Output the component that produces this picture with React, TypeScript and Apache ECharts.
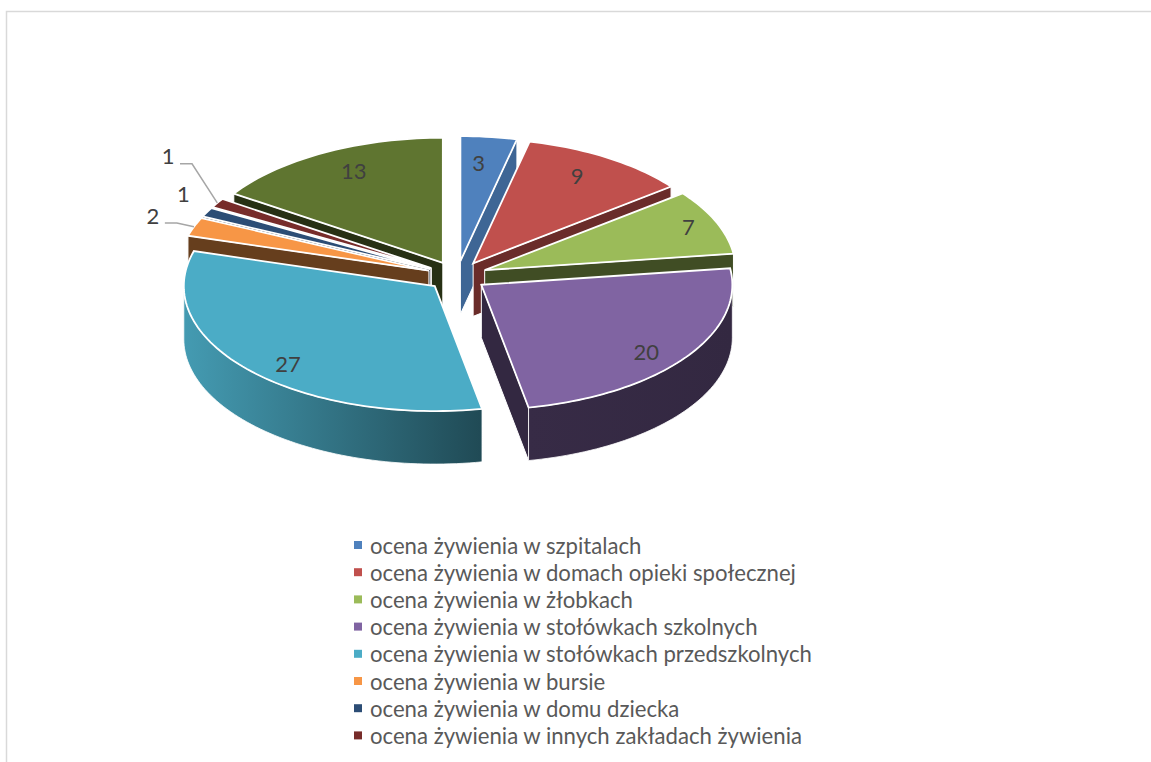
import React, { useEffect, useRef } from "react";
import * as echarts from "echarts";

// The reference shows eight legend rows; the ninth slice (13) has no readable name.
const categories = [
  "ocena żywienia w szpitalach",
  "ocena żywienia w domach opieki społecznej",
  "ocena żywienia w żłobkach",
  "ocena żywienia w stołówkach szkolnych",
  "ocena żywienia w stołówkach przedszkolnych",
  "ocena żywienia w bursie",
  "ocena żywienia w domu dziecka",
  "ocena żywienia w innych zakładach żywienia",
];
const values = [3, 9, 7, 20, 27, 2, 1, 1, 13];
const colors = ["#4f81bd", "#c0504d", "#9bbb59", "#8064a2", "#4bacc6", "#f79646", "#2c4d75", "#772c2a", "#5f7530"];
// label placement, as a fraction of the radius along each slice's mid-angle
const labelFx = [0.64, 0.77, 0.88, 0.81, 0.79, 1.175, 1.105, 1.23, 0.75];
const labelFy = [0.78, 0.82, 0.87, 0.93, 0.94, 1.23, 1.3, 1.7, 0.82];
const leaderFor = [5, 7];

const CX = 457;
const CY = 276;
const RX = 251;
const RY = 125;
const EX = 30;
const EY = 15;
const DEPTH = 53;
const total = values.reduce((a, b) => a + b, 0);
const rad = (d: number) => (d * Math.PI) / 180;

const shadeOf = (hex: string, f: number) => {
  const n = parseInt(hex.slice(1), 16);
  const c = [(n >> 16) & 255, (n >> 8) & 255, n & 255].map((v) => Math.round(v * f));
  return `rgb(${c[0]},${c[1]},${c[2]})`;
};
const lerpTable = (table: number[][], x: number) => {
  for (let i = 1; i < table.length; i++) {
    if (x <= table[i][0]) {
      const [a, fa] = table[i - 1];
      const [b, fb] = table[i];
      return fa + ((fb - fa) * (x - a)) / (b - a);
    }
  }
  return table[table.length - 1][1];
};
const wallShade = [[0, 0.8], [13, 0.79], [52, 0.55], [82, 0.41], [170, 0.4], [360, 0.42]];
const arcShade = [[90, 0.4], [169, 0.43], [270, 0.9]];

const starts: number[] = [];
values.reduce((acc, v, i) => {
  starts[i] = acc;
  return acc + (v / total) * 360;
}, 0);
const sweep = (i: number) => (values[i] / total) * 360;
const mids = values.map((_, i) => starts[i] + sweep(i) / 2);
const order = values.map((_, i) => i).sort((a, b) => Math.cos(rad(mids[b])) - Math.cos(rad(mids[a])));

function renderSlice(i: number, value: number) {
  const a0 = starts[i];
  const a1 = a0 + (value / total) * 360;
  const mid = (a0 + a1) / 2;
  const ax = CX + EX * Math.sin(rad(mid));
  const ay = CY - EY * Math.cos(rad(mid));
  const pt = (deg: number, drop = 0): number[] => [ax + RX * Math.sin(rad(deg)), ay - RY * Math.cos(rad(deg)) + drop];
  const arc = (from: number, to: number, drop = 0) => {
    const n = Math.max(2, Math.ceil((to - from) / 1.5));
    const out: number[][] = [];
    for (let k = 0; k <= n; k++) out.push(pt(from + ((to - from) * k) / n, drop));
    return out;
  };
  const rank = order.indexOf(i);
  const base = rank * 3 + 1;
  const color = colors[i];
  const children: any[] = [];
  const wall = (deg: number) => {
    children.push({
      type: "polygon",
      z2: base,
      shape: { points: [pt(deg), pt(deg, DEPTH), [ax, ay + DEPTH], [ax, ay]] },
      style: { fill: shadeOf(color, lerpTable(wallShade, deg)), stroke: "#fff", lineWidth: 1 },
    });
  };
  if (Math.sin(rad(a1)) > 0) wall(a1);
  if (Math.sin(rad(a0)) < 0) wall(a0);
  const f0 = Math.max(a0, 90);
  const f1 = Math.min(a1, 270);
  if (f1 > f0) {
    const top = arc(f0, f1);
    const bottom = arc(f0, f1, DEPTH).reverse();
    const left = pt(f1)[0] < pt(f0)[0] ? f1 : f0;
    const right = left === f1 ? f0 : f1;
    children.push({
      type: "polygon",
      z2: base + 1,
      shape: { points: [...top, ...bottom] },
      style: {
        fill: new echarts.graphic.LinearGradient(0, 0, 1, 0, [
          { offset: 0, color: shadeOf(color, lerpTable(arcShade, left)) },
          { offset: 1, color: shadeOf(color, lerpTable(arcShade, right)) },
        ]),
        stroke: "#fff",
        lineWidth: 0.8,
      },
    });
  }
  children.push({
    type: "polygon",
    z2: base + 2,
    shape: { points: [[ax, ay], ...arc(a0, a1)] },
    style: { fill: color, stroke: "#fff", lineWidth: 1.8, lineJoin: "miter" },
  });
  const lx = ax + labelFx[i] * RX * Math.sin(rad(mid));
  const ly = ay - labelFy[i] * RY * Math.cos(rad(mid)) - 1.5;
  if (leaderFor.includes(i)) {
    children.push({
      type: "polyline",
      z2: 999,
      shape: { points: [[lx + 12, ly + 8], [lx + 24, ly + 8], pt(mid)] },
      style: { fill: "none", stroke: "#a6a6a6", lineWidth: 1.5 },
    });
  }
  children.push({
    type: "text",
    z2: 1000,
    style: {
      x: lx,
      y: ly,
      text: String(value),
      fill: "#404040",
      font: "22px Lato",
      align: "center",
      verticalAlign: "middle",
    },
  });
  return { type: "group", children };
}

export default function App() {
  const ref = useRef<HTMLDivElement>(null);
  useEffect(() => {
    document.body.style.margin = "0";
    const chart = echarts.init(ref.current!, null, { renderer: "svg" });
    chart.setOption({
      animation: false,
      backgroundColor: "#fff",
      legend: {
        orient: "vertical",
        left: 354,
        top: 534,
        height: 400,
        padding: 0,
        data: categories,
        icon: "rect",
        itemWidth: 8,
        itemHeight: 8,
        itemGap: 5.2,
        selectedMode: false,
        textStyle: { fontFamily: "Lato", fontSize: 22.15, lineHeight: 20, color: "#595959", padding: [0, 0, 0, 3] },
      },
      graphic: [
        {
          type: "polyline",
          silent: true,
          shape: { points: [[6.5, 762], [6.5, 11.5], [1151, 11.5]] },
          style: { fill: "none", stroke: "#d9d9d9", lineWidth: 1.5 },
        },
      ],
      series: values.map((v, i) => ({
        type: "custom",
        name: categories[i],
        coordinateSystem: "none",
        silent: true,
        itemStyle: { color: colors[i] },
        data: [[v]],
        renderItem: (_p: any, api: any) => renderSlice(i, api.value(0)),
      })),
    });
    return () => chart.dispose();
  }, []);
  return <div ref={ref} style={{ position: "absolute", left: 0, top: 0, width: 1151, height: 762 }} />;
}
